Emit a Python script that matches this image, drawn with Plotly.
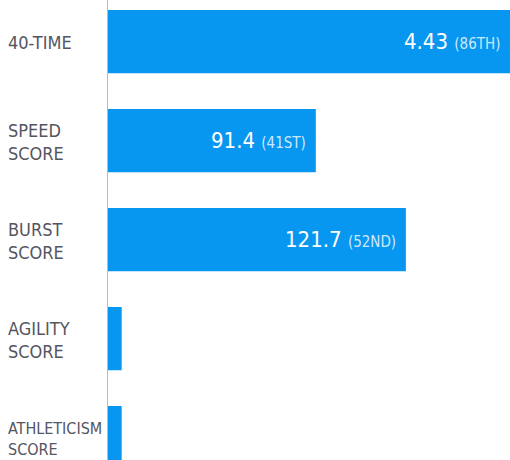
import plotly.graph_objects as go

categories = ["40-TIME", "SPEED<br>SCORE", "BURST<br>SCORE", "AGILITY<br>SCORE", "ATHLETICISM<br>SCORE"]
bar_lengths = [100, 51.7, 74.1, 3.4, 3.4]
value_text = ["4.43", "91.4", "121.7", "", ""]
rank_text = ["(86TH)", "(41ST)", "(52ND)", "", ""]

BAR = "#0897F0"
LABEL_FONT = "DejaVu Sans Condensed, Roboto, sans-serif"
VALUE_FONT = "DejaVu Sans Condensed, Roboto, sans-serif"
label_sizes = {"ATHLETICISM<br>SCORE": 16}

fig = go.Figure(go.Bar(
    y=list(range(len(categories))), x=bar_lengths, orientation="h",
    marker=dict(color=BAR, line=dict(width=0)), width=0.64, hoverinfo="skip",
))

ann = []
for i, c in enumerate(categories):
    ann.append(dict(xref="paper", yref="y", x=0, y=i, xshift=-102, yshift=-1,
                    xanchor="left", yanchor="middle", align="left", showarrow=False,
                    text=c, font=dict(family=LABEL_FONT, size=label_sizes.get(c, 18), color="#55555F")))
    if value_text[i]:
        ann.append(dict(xref="x", yref="y", x=bar_lengths[i], y=i, xshift=-8,
                        xanchor="right", yanchor="middle", showarrow=False,
                        text=f"{value_text[i]} <span style='font-size:15px;color:rgba(255,255,255,0.8)'>{rank_text[i]}</span>",
                        font=dict(family=VALUE_FONT, size=22, color="white")))

fig.update_layout(
    width=510, height=460, margin=dict(l=108, r=0, t=0, b=0),
    paper_bgcolor="white", plot_bgcolor="white", showlegend=False,
    xaxis=dict(range=[0, 100], visible=False, fixedrange=True),
    yaxis=dict(range=[4.226, -0.42], showticklabels=False, showgrid=False, zeroline=False,
               showline=True, linecolor="#BBBBBB", linewidth=1, ticks="", fixedrange=True),
    annotations=ann,
)
fig.write_html("out.html", config={"displayModeBar": False},
               post_script="document.body.style.margin='0px';")
